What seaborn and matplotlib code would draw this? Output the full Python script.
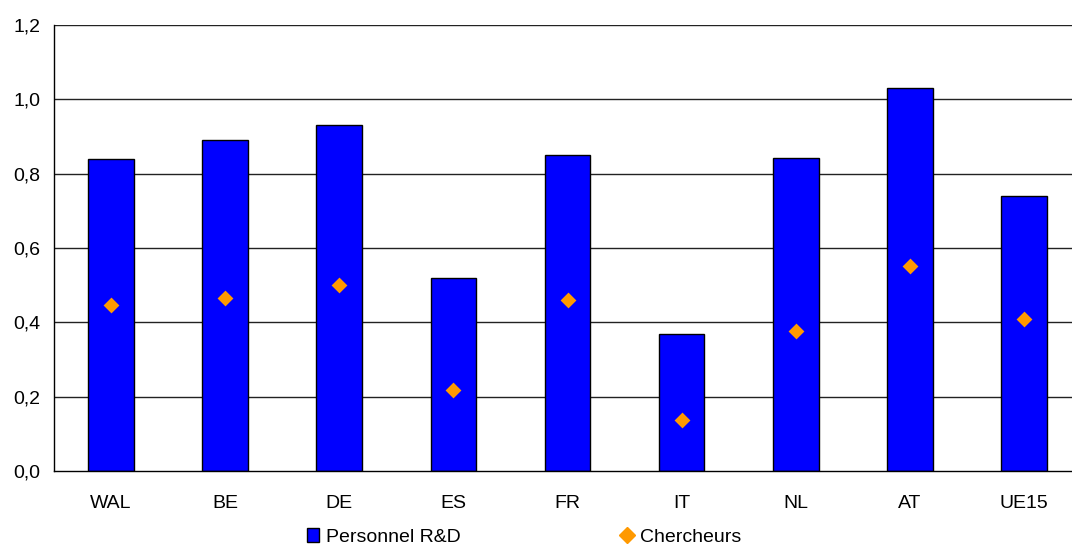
import seaborn as sns
import matplotlib.pyplot as plt
import pandas as pd
import numpy as np
from matplotlib.ticker import FuncFormatter, FixedLocator
from matplotlib.lines import Line2D
from matplotlib.patches import Patch

sns.set_style("white")
plt.rcParams['font.family'] = ['Liberation Sans', 'DejaVu Sans']
plt.rcParams['text.color'] = 'black'
plt.rcParams['xtick.color'] = 'black'
plt.rcParams['ytick.color'] = 'black'

# Data
pays = ['WAL', 'BE', 'DE', 'ES', 'FR', 'IT', 'NL', 'AT', 'UE15']
personnel = [0.839, 0.891, 0.931, 0.520, 0.850, 0.369, 0.842, 1.030, 0.741]
chercheurs = [0.447, 0.465, 0.500, 0.218, 0.460, 0.137, 0.377, 0.552, 0.409]

df = pd.DataFrame({'pays': pays, 'personnel': personnel, 'chercheurs': chercheurs})

fig = plt.figure(figsize=(10.72, 5.45), dpi=100)
ax = fig.add_axes([54 / 1072, 1 - 471 / 545, 1027 / 1072, (471 - 25) / 545])

# gridlines first so bars sit on top
for y in np.arange(0.2, 1.21, 0.2):
    ax.axhline(y, color='#222222', lw=1, zorder=0)

sns.barplot(data=df, x='pays', y='personnel', color='#0000FF', saturation=1,
            width=0.40, edgecolor='black', linewidth=1, ax=ax, zorder=2)
ax.scatter(np.arange(len(pays)), chercheurs, marker='D', s=65, color='#FF9900',
           zorder=3, linewidths=0)

ax.set_xlim(-0.5, len(pays) - 0.5)
ax.set_ylim(0, 1.2)
ax.set_yticks(np.arange(0, 1.21, 0.2))
ax.yaxis.set_major_formatter(FuncFormatter(lambda v, p: f"{v:.1f}".replace('.', ',')))
ax.set_xlabel('')
ax.set_ylabel('')

# category boundary ticks on the x axis, labels centred
ax.xaxis.set_minor_locator(FixedLocator(np.arange(-0.5, len(pays), 1.0)))
ax.tick_params(axis='x', which='major', length=0, pad=17, labelsize=14)
ax.tick_params(axis='x', which='minor', length=8, width=1, direction='inout')
ax.tick_params(axis='y', length=5, width=1, direction='out', labelsize=14, pad=5)

for s in ['top', 'right']:
    ax.spines[s].set_visible(False)
for s in ['left', 'bottom']:
    ax.spines[s].set_color('black')
    ax.spines[s].set_linewidth(1)

handles = [Patch(facecolor='#0000FF', edgecolor='black', label='Personnel R&D'),
           Line2D([], [], marker='D', color='#FF9900', lw=0, markersize=8, label='Chercheurs')]
fig.legend(handles=handles, loc='center', bbox_to_anchor=(0.489, 1 - 537 / 545), ncol=2,
           frameon=False, fontsize=14, columnspacing=8.2, handlelength=0.6,
           handletextpad=0.4, borderpad=0)

fig.savefig('out.png', dpi=100)
plt.close()
